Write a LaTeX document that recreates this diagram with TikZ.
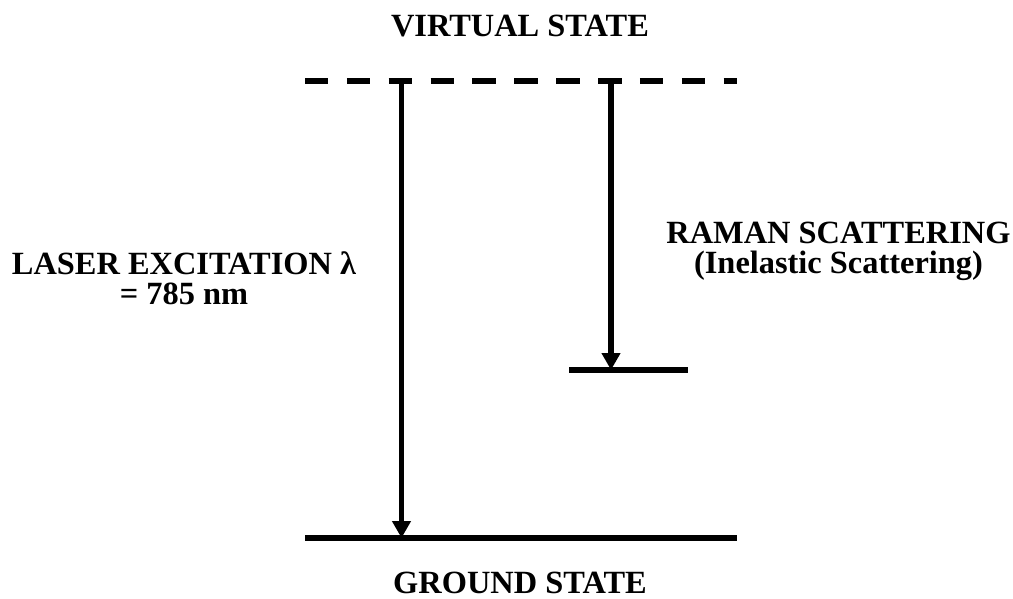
\documentclass[tikz,border=0pt]{standalone}
\usepackage{fontspec}
\setmainfont{Liberation Serif}
\usetikzlibrary{arrows.meta}
\begin{document}
\begin{tikzpicture}[x=0.75pt,y=-0.75pt,
  level/.style={line width=4.2pt},
  vdash/.style={line width=4.2pt, dash pattern=on 17.6pt off 13.8pt},
  transition/.style={line width=4.2pt, -{Triangle[width=13.5pt,length=12.75pt]}},
  label/.style={inner sep=0pt, font=\fontsize{24.3}{22}\selectfont\bfseries, align=center}]
\useasboundingbox (0,0) rectangle (1013,599);
% levels
\coordinate (vL) at (305,81);
\coordinate (vR) at (737,81);
\coordinate (gL) at (305,538);
\coordinate (gR) at (737,538);
\coordinate (rL) at (569,370);
\coordinate (rR) at (688,370);
\coordinate (a1top) at (401.5,81);
\coordinate (a1bot) at (401.5,538);
\coordinate (a2top) at (611,81);
\coordinate (a2bot) at (611,370);
\draw[vdash] (vL) -- (vR);
\draw[level] (gL) -- (gR);
\draw[level] (rL) -- (rR);
\draw[transition] (a1top) -- (a1bot);
\draw[transition] (a2top) -- (a2bot);
% labels
\node[label, anchor=base] (virt) at (520,37) {VIRTUAL STATE};
\node[label, anchor=base] (ground) at (520,593) {GROUND STATE};
\node[label, anchor=base] (laser) at (184,304) {LASER EXCITATION λ\\= 785 nm};
\node[label, anchor=base] (raman) at (838.5,273) {RAMAN SCATTERING\\(Inelastic Scattering)};
\end{tikzpicture}
\end{document}
